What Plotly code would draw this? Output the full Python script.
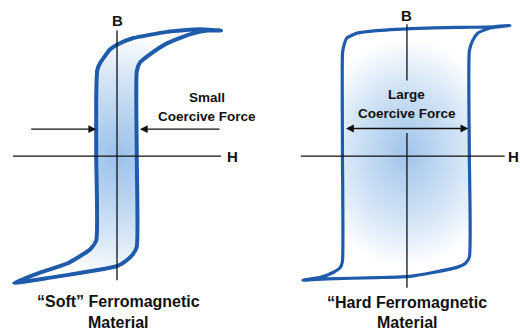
import plotly.graph_objects as go

# ---- data: hysteresis loops (H, B in arbitrary units) ----
# Soft ferromagnetic loop (closed path: descending branch then ascending branch)
soft_H = [1.00, 0.80, 0.48, 0.15, 0.00, -0.07, -0.16, -0.19, -0.20, -0.20, -0.20,
          -0.26, -0.48, -0.74, -0.99,
          -0.64, -0.33, 0.00, 0.10, 0.15, 0.19, 0.19, 0.19, 0.22, 0.31, 0.48, 0.70, 0.87, 1.00]
soft_B = [0.98, 0.99, 0.97, 0.92, 0.87, 0.83, 0.73, 0.67, 0.45, 0.00, -0.66,
          -0.73, -0.84, -0.91, -0.99,
          -0.95, -0.91, -0.86, -0.81, -0.77, -0.71, 0.00, 0.66, 0.73, 0.79, 0.88, 0.95, 0.98, 0.98]

# Hard ferromagnetic loop
hard_H = [0.99, 0.83, 0.19, -0.29, -0.48, -0.58, -0.61, -0.62, -0.62, -0.62,
          -0.64, -0.71, -0.84, -1.00,
          -0.77, -0.29, 0.03, 0.25, 0.48, 0.56, 0.60, 0.60, 0.60, 0.63, 0.68, 0.80, 0.99]
hard_B = [1.02, 1.01, 1.00, 0.98, 0.96, 0.92, 0.85, 0.80, 0.00, -0.82,
          -0.87, -0.91, -0.95, -0.97,
          -0.96, -0.95, -0.94, -0.91, -0.87, -0.84, -0.79, 0.00, 0.82, 0.90, 0.96, 1.00, 1.02]

# axis line extents
soft_H_axis = [-1.00, 1.00]
soft_B_axis = [-0.97, 0.98]
hard_H_axis = [-1.02, 0.94]
hard_B_axis_top = [0.59, 1.03]
hard_B_axis_bottom = [-1.03, 0.18]

# coercive-force markers
soft_arrow_left = [-0.84, -0.20]
soft_arrow_right = [1.00, 0.22]
soft_arrow_B = 0.21
hard_arrow = [-0.60, 0.59]
hard_arrow_B = 0.215

blue = "#1f5bab"
ink = "#111111"
font = "Liberation Sans, Arial, sans-serif"

fig = go.Figure()

fig.add_trace(go.Scatter(
    x=soft_H, y=soft_B, mode="lines", fill="toself",
    line=dict(color=blue, width=4, shape="spline", smoothing=0.5),
    fillgradient=dict(type="radial",
                      colorscale=[[0, "#98c0ea"], [0.6, "#d2e3f5"], [1, "#ffffff"]]),
    xaxis="x", yaxis="y", hoverinfo="skip", showlegend=False))

fig.add_trace(go.Scatter(
    x=hard_H, y=hard_B, mode="lines", fill="toself",
    line=dict(color=blue, width=3.2, shape="spline", smoothing=0.5),
    fillgradient=dict(type="radial",
                      colorscale=[[0, "#a0c4ea"], [0.55, "#d4e5f6"], [0.9, "#ffffff"], [1, "#ffffff"]]),
    xaxis="x2", yaxis="y", hoverinfo="skip", showlegend=False))

line_style = dict(color=ink, width=1.3)
shapes = [
    dict(type="line", xref="x", yref="y", x0=soft_H_axis[0], x1=soft_H_axis[1], y0=0, y1=0, line=line_style),
    dict(type="line", xref="x", yref="y", x0=0, x1=0, y0=soft_B_axis[0], y1=soft_B_axis[1], line=line_style),
    dict(type="line", xref="x2", yref="y", x0=hard_H_axis[0], x1=hard_H_axis[1], y0=0, y1=0, line=line_style),
    dict(type="line", xref="x2", yref="y", x0=0, x1=0, y0=hard_B_axis_top[0], y1=hard_B_axis_top[1], line=line_style),
    dict(type="line", xref="x2", yref="y", x0=0, x1=0, y0=hard_B_axis_bottom[0], y1=hard_B_axis_bottom[1], line=line_style),
]

def txt(x, y, s, xref, size=13):
    return dict(x=x, y=y, xref=xref, yref="y", text=s, showarrow=False,
                font=dict(family=font, size=size, color=ink), xanchor="center", yanchor="middle")

annotations = [
    txt(0, 1.06, "<b>B</b>", "x", 15),
    txt(1.106, 0.0, "<b>H</b>", "x", 15),
    txt(0, 1.10, "<b>B</b>", "x2", 15),
    txt(1.025, 0.0, "<b>H</b>", "x2", 15),
    txt(0.865, 0.46, "<b>Small</b>", "x", 13.5),
    txt(0.865, 0.31, "<b>Coercive Force</b>", "x", 13.5),
    txt(0, 0.48, "<b>Large</b>", "x2", 13.5),
    txt(0, 0.33, "<b>Coercive Force</b>", "x2", 13.5),
    txt(0.01, -1.14, "<b>“Soft” Ferromagnetic</b>", "x", 16),
    txt(0.01, -1.30, "<b>Material</b>", "x", 16),
    txt(0, -1.145, "<b>“Hard Ferromagnetic</b>", "x2", 16),
    txt(0, -1.30, "<b>Material</b>", "x2", 16),
    # arrows
    dict(x=soft_arrow_left[1], y=soft_arrow_B, ax=soft_arrow_left[0], ay=soft_arrow_B,
         xref="x", yref="y", axref="x", ayref="y", text="", showarrow=True,
         arrowhead=2, arrowsize=1.2, arrowwidth=1.3, arrowcolor=ink),
    dict(x=soft_arrow_right[1], y=soft_arrow_B, ax=soft_arrow_right[0], ay=soft_arrow_B,
         xref="x", yref="y", axref="x", ayref="y", text="", showarrow=True,
         arrowhead=2, arrowsize=1.2, arrowwidth=1.3, arrowcolor=ink),
    dict(x=hard_arrow[1], y=hard_arrow_B, ax=hard_arrow[0], ay=hard_arrow_B,
         xref="x2", yref="y", axref="x2", ayref="y", text="", showarrow=True,
         arrowhead=2, startarrowhead=2, arrowside="end+start",
         arrowsize=1.2, startarrowsize=1.2, arrowwidth=1.3, arrowcolor=ink),
]

hidden = dict(visible=False, showgrid=False, zeroline=False, fixedrange=True)
fig.update_layout(
    width=520, height=331,
    margin=dict(l=0, r=0, t=0, b=0),
    paper_bgcolor="white", plot_bgcolor="white",
    xaxis=dict(range=[-1.125, 3.875], domain=[0, 1], **hidden),
    xaxis2=dict(range=[-3.913, 1.087], domain=[0, 1], overlaying="x", **hidden),
    yaxis=dict(range=[-1.367, 1.219], domain=[0, 1], **hidden),
    shapes=shapes, annotations=annotations,
    showlegend=False,
)

fig.write_html("out.html", config={"displayModeBar": False},
               post_script="document.body.style.margin='0';document.body.style.overflow='hidden';")
